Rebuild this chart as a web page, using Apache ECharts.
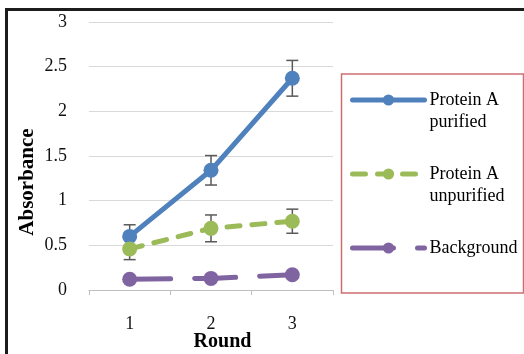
<!DOCTYPE html>
<html>
<head>
<meta charset="utf-8">
<script src="https://cdn.jsdelivr.net/npm/echarts@6/dist/echarts.min.js"></script>
<style>
html,body{margin:0;padding:0;background:#fff;}
#main{width:524px;height:354px;}
</style>
</head>
<body>
<div id="main"></div>
<script>
var rounds = ['1', '2', '3'];
var yTicks = [0, 0.5, 1, 1.5, 2, 2.5, 3];
var purified = [0.6, 1.34, 2.37];
var purifiedErr = [0.13, 0.165, 0.2];
var unpurified = [0.46, 0.69, 0.77];
var unpurifiedErr = [0.12, 0.15, 0.135];
var background = [0.12, 0.13, 0.17];
var seriesNames = ['Protein A purified', 'Protein A unpurified', 'Background'];
var legendLabels = ['\nProtein A\npurified', '\nProtein A\nunpurified', '\nBackground\n '];

var FONT = 'Liberation Serif';

function errData(vals, errs) {
  return vals.map(function (v, i) { return [i, v - errs[i], v + errs[i]]; });
}

function renderErr(params, api) {
  var x = api.value(0);
  var lo = api.coord([x, api.value(1)]);
  var hi = api.coord([x, api.value(2)]);
  var hw = 6;
  var st = { stroke: '#595959', lineWidth: 1.5 };
  return {
    type: 'group',
    children: [
      { type: 'line', shape: { x1: hi[0], y1: hi[1], x2: lo[0], y2: lo[1] }, style: st },
      { type: 'line', shape: { x1: hi[0] - hw, y1: hi[1], x2: hi[0] + hw, y2: hi[1] }, style: st },
      { type: 'line', shape: { x1: lo[0] - hw, y1: lo[1], x2: lo[0] + hw, y2: lo[1] }, style: st }
    ]
  };
}

var chart = echarts.init(document.getElementById('main'), null, { renderer: 'canvas' });
var option = {
  animation: false,
  backgroundColor: '#fff',
  textStyle: { fontFamily: FONT },
  grid: { left: 89, right: 191, top: 22, bottom: 64, containLabel: false, outerBoundsMode: 'none' },
  xAxis: {
    type: 'category',
    data: rounds,
    boundaryGap: true,
    name: 'Round',
    nameLocation: 'middle',
    nameGap: 42,
    nameMoveOverlap: false,
    nameTextStyle: { fontFamily: FONT, fontSize: 20, fontWeight: 'bold', color: '#000', padding: [0, 0, 0, 23] },
    axisLine: { show: true, lineStyle: { color: '#BFBFBF', width: 1 } },
    axisTick: { show: true, length: 5, lineStyle: { color: '#BFBFBF' } },
    axisLabel: { fontFamily: FONT, fontSize: 18, color: '#111', margin: 25 },
    splitLine: { show: false }
  },
  yAxis: {
    type: 'value',
    min: yTicks[0],
    max: yTicks[yTicks.length - 1],
    interval: 0.5,
    name: 'Absorbance',
    nameLocation: 'middle',
    nameGap: 51,
    nameMoveOverlap: false,
    nameTextStyle: { fontFamily: FONT, fontSize: 21, fontWeight: 'bold', color: '#000', padding: [0, 52, 0, 0] },
    axisLine: { show: false },
    axisTick: { show: false },
    axisLabel: { fontFamily: FONT, fontSize: 18, color: '#111', margin: 22 },
    splitLine: { show: true, lineStyle: { color: '#D9D9D9', width: 1 } }
  },
  legend: {
    orient: 'vertical',
    left: 350,
    top: 67,
    padding: 0,
    itemWidth: 72,
    itemHeight: 14,
    itemGap: 8,
    lineStyle: { width: 5 },
    formatter: function (n) { return legendLabels[seriesNames.indexOf(n)]; },
    textStyle: { fontFamily: FONT, fontSize: 18, color: '#000', lineHeight: 22 },
    data: seriesNames.slice()
  },
  graphic: [
    { type: 'rect', shape: { x: 5, y: 8, width: 530, height: 3 }, style: { fill: '#1c1c1c' }, z: 100 },
    { type: 'rect', shape: { x: 5, y: 8, width: 3, height: 360 }, style: { fill: '#1c1c1c' }, z: 100 },
    { type: 'rect', shape: { x: 341.5, y: 74, width: 182, height: 219 }, style: { fill: 'none', stroke: '#CD6E70', lineWidth: 1.5 }, z: 1 }
  ],
  series: [
    {
      type: 'custom', name: 'errP', renderItem: renderErr, data: errData(purified, purifiedErr), z: 1, silent: true
    },
    {
      type: 'custom', name: 'errU', renderItem: renderErr, data: errData(unpurified, unpurifiedErr), z: 1, silent: true
    },
    {
      name: seriesNames[0], type: 'line', data: purified, z: 3,
      symbol: 'circle', symbolSize: 15,
      itemStyle: { color: '#4F81BD' },
      lineStyle: { color: '#4F81BD', width: 5, cap: 'round' }
    },
    {
      name: seriesNames[1], type: 'line', data: unpurified, z: 3,
      symbol: 'circle', symbolSize: 15,
      itemStyle: { color: '#9BBB59' },
      lineStyle: { color: '#9BBB59', width: 5, type: [13, 12], cap: 'round' }
    },
    {
      name: seriesNames[2], type: 'line', data: background, z: 3,
      symbol: 'circle', symbolSize: 15,
      itemStyle: { color: '#8064A2' },
      lineStyle: { color: '#8064A2', width: 5, type: [41, 24], cap: 'round' }
    }
  ]
};
chart.setOption(option);
</script>
</body>
</html>
